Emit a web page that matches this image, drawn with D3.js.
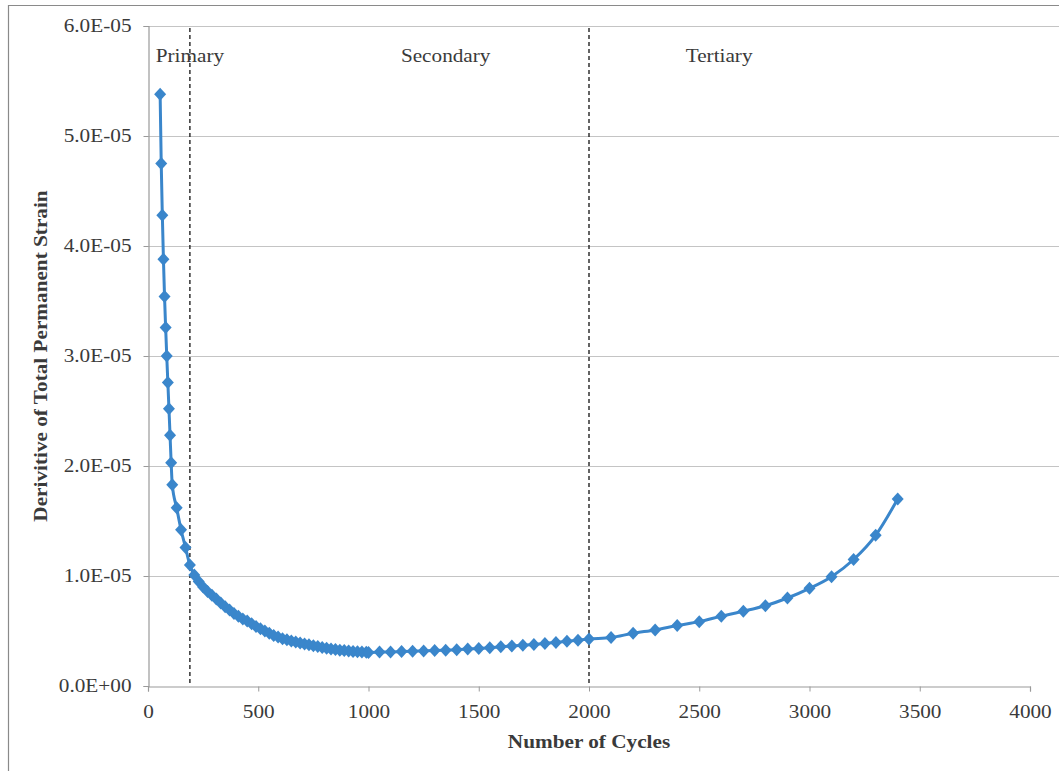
<!DOCTYPE html>
<html>
<head>
<meta charset="utf-8">
<script src="https://cdn.jsdelivr.net/npm/d3@7"></script>
<style>
  body { margin: 0; background: #fff; }
  svg text { font-family: "Liberation Serif", "Times New Roman", serif; fill: #3a3a3a; }
</style>
</head>
<body>
<div id="chart"></div>
<script>
// number of cycles
const cycles = [
  55, 60, 65, 70, 75, 80, 85, 90, 95, 100, 105, 110,
  130, 150, 170, 190, 210, 230, 250, 270, 290, 310, 330, 350, 370, 390,
  410, 430, 450, 470, 490, 510, 530, 550, 570, 590, 610, 630, 650, 670,
  690, 710, 730, 750, 770, 790, 810, 830, 850, 870, 890, 910, 930, 950,
  970, 990, 1000,
  1050, 1100, 1150, 1200, 1250, 1300, 1350, 1400, 1450, 1500, 1550, 1600,
  1650, 1700, 1750, 1800, 1850, 1900, 1950, 2000,
  2100, 2200, 2300, 2400, 2500, 2600, 2700, 2800, 2900, 3000, 3100, 3200,
  3300, 3400
];
// derivative of total permanent strain (x 1e-6)
const strainE6 = [
  53.8, 47.5, 42.8, 38.8, 35.4, 32.6, 30.0, 27.6, 25.2, 22.8, 20.3, 18.3,
  16.2, 14.2, 12.6, 11.0, 10.1, 9.5, 9.0, 8.6, 8.25, 7.9, 7.55, 7.2, 6.9, 6.6,
  6.35, 6.1, 5.9, 5.65, 5.4, 5.2, 5.0, 4.8, 4.6, 4.45, 4.3, 4.2, 4.1, 4.0,
  3.9, 3.82, 3.74, 3.66, 3.58, 3.5, 3.43, 3.37, 3.31, 3.26, 3.22, 3.18, 3.14, 3.11,
  3.08, 3.06, 3.05,
  3.08, 3.1, 3.13, 3.16, 3.19, 3.22, 3.26, 3.3, 3.36, 3.42, 3.48, 3.56,
  3.63, 3.7, 3.78, 3.87, 3.96, 4.06, 4.17, 4.27,
  4.4, 4.8, 5.1, 5.5, 5.85, 6.35, 6.8, 7.3, 8.0, 8.88, 9.94, 11.5,
  13.7, 17.0
];
const xTicks = [0, 500, 1000, 1500, 2000, 2500, 3000, 3500, 4000];
const yTicks = [0, 1e-5, 2e-5, 3e-5, 4e-5, 5e-5, 6e-5];
const phaseBounds = [190, 2000];
const phaseLabels = [
  { name: "Primary", at: 190 },
  { name: "Secondary", at: 1350 },
  { name: "Tertiary", at: 2590 }
];

const data = cycles.map((c, i) => ({ x: c, y: strainE6[i] * 1e-6 }));

const W = 1059, H = 771;
const margin = { left: 148, right: 29, top: 26, bottom: 85 };
const blue = "#3a86cb";

const svg = d3.select("#chart").append("svg")
  .attr("width", W).attr("height", H);

// outer frame of the chart
svg.append("path")
  .attr("d", `M8.5,${H} V5.5 H${W}`)
  .attr("fill", "none").attr("stroke", "#8a8a8a").attr("stroke-width", 1.2);

const x = d3.scaleLinear().domain([0, 4000]).range([margin.left, W - margin.right]);
const y = d3.scaleLinear().domain([0, 6e-5]).range([H - margin.bottom, margin.top]);

// gridlines
svg.append("g")
  .selectAll("line")
  .data(yTicks.slice(1))
  .join("line")
  .attr("x1", margin.left).attr("x2", W)
  .attr("y1", d => Math.round(y(d)) + 0.5).attr("y2", d => Math.round(y(d)) + 0.5)
  .attr("stroke", "#c4c4c4").attr("stroke-width", 1.2);

// axes
const xAxis = svg.append("g")
  .attr("transform", `translate(0,${Math.round(y(0)) + 0.5})`)
  .call(d3.axisBottom(x).tickValues(xTicks).tickSize(5).tickPadding(14).tickFormat(d3.format("d")));
const yAxis = svg.append("g")
  .attr("transform", `translate(${margin.left + 0.5},0)`)
  .call(d3.axisLeft(y).tickValues(yTicks).tickSize(5).tickPadding(12)
    .tickFormat(d => d === 0 ? "0.0E+00" : d3.format(".1e")(d).replace("e-", "E-0")));

[xAxis, yAxis].forEach(g => {
  g.select(".domain").attr("stroke", "#9a9a9a").attr("stroke-width", 1.2);
  g.selectAll(".tick line").attr("stroke", "#9a9a9a");
  g.selectAll(".tick text")
    .attr("font-family", "Liberation Serif, Times New Roman, serif")
    .attr("font-size", 18).attr("fill", "#3a3a3a");
});
xAxis.selectAll(".tick text").attr("transform", "scale(1.18,1)")
  .attr("x", 0);
yAxis.selectAll(".tick text").attr("transform", "scale(1.18,1)")
  .attr("x", -17 / 1.18);

// phase boundaries
svg.append("g")
  .selectAll("line")
  .data(phaseBounds)
  .join("line")
  .attr("x1", d => x(d)).attr("x2", d => x(d))
  .attr("y1", margin.top + 2).attr("y2", y(0))
  .attr("stroke", "#222").attr("stroke-width", 1.4)
  .attr("stroke-dasharray", "4,3");

// phase labels
svg.append("g")
  .selectAll("text")
  .data(phaseLabels)
  .join("text")
  .attr("transform", d => `translate(${x(d.at)},62) scale(1.18,1)`)
  .attr("text-anchor", "middle")
  .attr("font-size", 18)
  .text(d => d.name);

// series line
svg.append("path")
  .datum(data)
  .attr("fill", "none")
  .attr("stroke", blue)
  .attr("stroke-width", 3)
  .attr("d", d3.line().x(d => x(d.x)).y(d => y(d.y)).curve(d3.curveMonotoneX));

// diamond markers
svg.append("g")
  .selectAll("path")
  .data(data)
  .join("path")
  .attr("transform", d => `translate(${x(d.x)},${y(d.y)})`)
  .attr("d", "M0,-6.5L6,0L0,6.5L-6,0Z")
  .attr("fill", blue);

// axis titles
svg.append("text")
  .attr("transform", `translate(${(x(0) + x(4000)) / 2},748) scale(1.18,1)`)
  .attr("text-anchor", "middle")
  .attr("font-size", 18).attr("font-weight", "bold")
  .text("Number of Cycles");
svg.append("text")
  .attr("transform", `translate(47,${y(3e-5)}) rotate(-90) scale(1.18,1)`)
  .attr("text-anchor", "middle")
  .attr("font-size", 18).attr("font-weight", "bold")
  .text("Derivitive of Total Permanent Strain");
</script>
</body>
</html>
